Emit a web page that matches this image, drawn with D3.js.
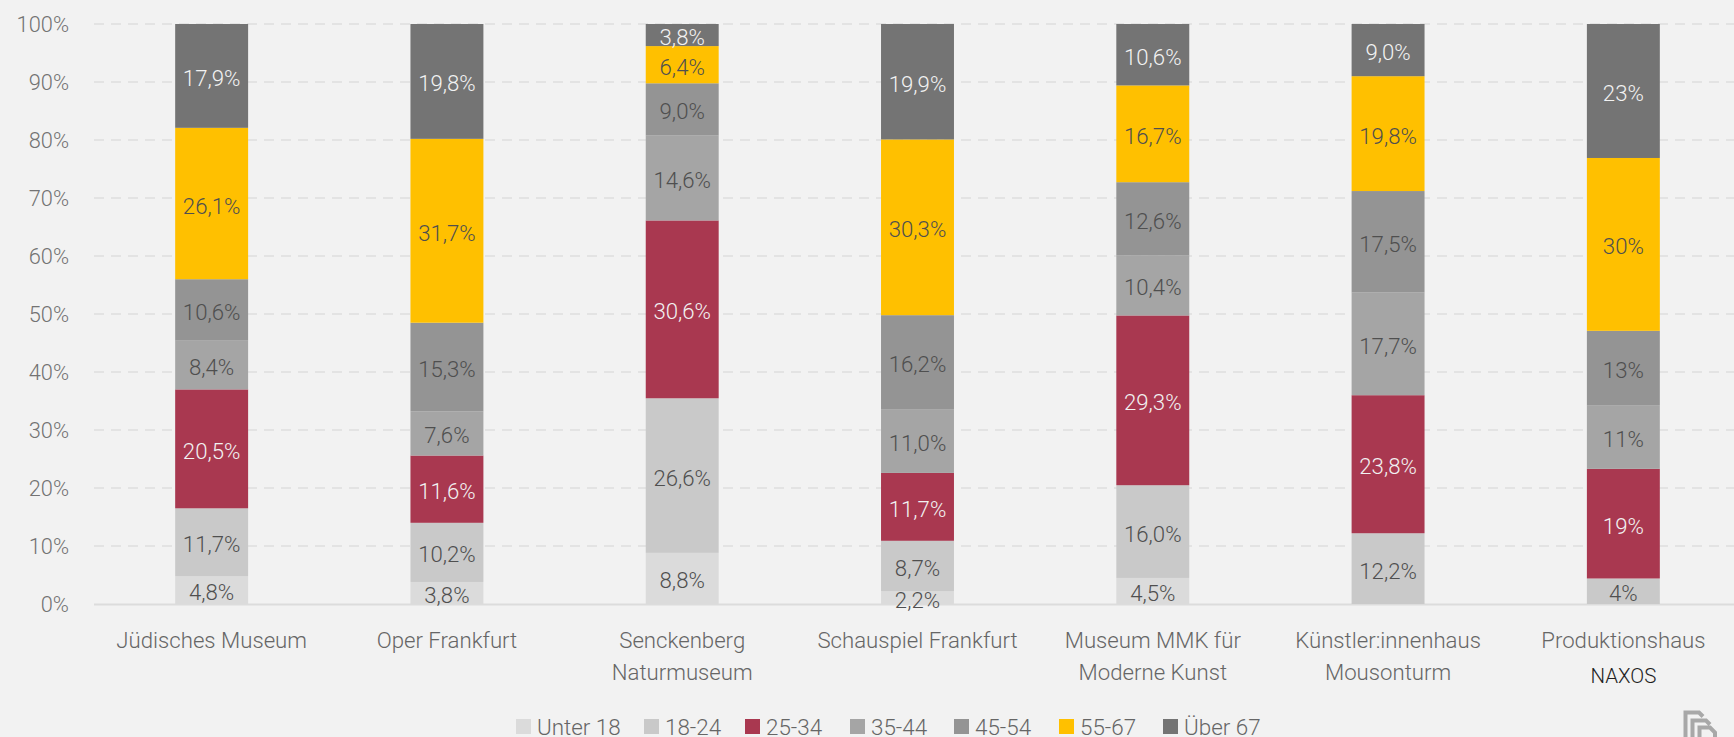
<!DOCTYPE html>
<html><head><meta charset="utf-8">
<script src="https://cdnjs.cloudflare.com/ajax/libs/d3/7.8.5/d3.min.js"></script>
<style>
html,body{margin:0;padding:0;background:#f2f2f2;overflow:hidden}
svg{display:block}
text{font-family:Roboto,"Open Sans",sans-serif;font-weight:300}
</style></head><body><svg id="c" width="1734" height="737"></svg>
<script>
const venues=[["Jüdisches Museum"],["Oper Frankfurt"],["Senckenberg","Naturmuseum"],["Schauspiel Frankfurt"],["Museum MMK für","Moderne Kunst"],["Künstler:innenhaus","Mousonturm"],["Produktionshaus","NAXOS"]];
const ageGroups=["Unter 18","18-24","25-34","35-44","45-54","55-67","Über 67"];
const colors=["#dbdbdb","#c9c9c9","#a93850","#a5a5a5","#949494","#ffc000","#747474"];
const unter18=[4.8,3.8,8.8,2.2,4.5,0,0];
const a18=[11.7,10.2,26.6,8.7,16.0,12.2,4.4];
const a25=[20.5,11.6,30.6,11.7,29.3,23.8,18.9];
const a35=[8.4,7.6,14.6,11.0,10.4,17.7,10.9];
const a45=[10.6,15.3,9.0,16.2,12.6,17.5,12.9];
const a55=[26.1,31.7,6.4,30.3,16.7,19.8,29.8];
const a67=[17.9,19.8,3.8,19.9,10.6,9.0,23.1];
const rawLabels=[
 ["4,8%","3,8%","8,8%","2,2%","4,5%","",""],
 ["11,7%","10,2%","26,6%","8,7%","16,0%","12,2%","4%"],
 ["20,5%","11,6%","30,6%","11,7%","29,3%","23,8%","19%"],
 ["8,4%","7,6%","14,6%","11,0%","10,4%","17,7%","11%"],
 ["10,6%","15,3%","9,0%","16,2%","12,6%","17,5%","13%"],
 ["26,1%","31,7%","6,4%","30,3%","16,7%","19,8%","30%"],
 ["17,9%","19,8%","3,8%","19,9%","10,6%","9,0%","23%"]];
const seriesVals=[unter18,a18,a25,a35,a45,a55,a67];
const labelCols=["#4f4f4f","#4f4f4f","#f2f2f2","#4f4f4f","#4f4f4f","#4f4f4f","#f2f2f2"];
const table=venues.map((v,i)=>{const o={i};ageGroups.forEach((g,k)=>o[g]=seriesVals[k][i]);return o;});
const svg=d3.select("#c");
const x=d3.scaleBand().domain(d3.range(venues.length)).range([94,1741]).paddingInner(0.69).paddingOuter(0.345);
const y=d3.scaleLinear().domain([0,1]).range([604,24]);
const stack=d3.stack().keys(ageGroups).offset(d3.stackOffsetExpand)(table);
const yAxis=d3.axisLeft(y).tickValues(d3.range(0,1.001,.1)).tickFormat(d3.format(".0%")).tickSize(0).tickPadding(0);
const ga=svg.append("g").attr("transform","translate(69,0)").call(yAxis);
ga.select(".domain").remove();
ga.selectAll("text").attr("font-size",21.8).attr("fill","#737373").attr("dy","0.34em").style("font-family",'Roboto,"Open Sans",sans-serif');
svg.append("g").selectAll("line").data(d3.range(1,10.5).map(d=>d/10)).join("line")
 .attr("x1",94).attr("x2",1742).attr("y1",y).attr("y2",y)
 .attr("stroke","#dedede").attr("stroke-width",1.6).attr("stroke-dasharray","10 7");
svg.append("line").attr("x1",94).attr("x2",1742).attr("y1",604.5).attr("y2",604.5).attr("stroke","#dcdcdc").attr("stroke-width",2);
const gs=svg.append("g").selectAll("g").data(stack).join("g").attr("fill",(d,i)=>colors[i]);
gs.selectAll("rect").data(d=>d).join("rect")
 .attr("x",(d,i)=>x(i)).attr("width",x.bandwidth())
 .attr("y",d=>y(d[1])).attr("height",d=>y(d[0])-y(d[1]));
const gl=svg.append("g").selectAll("g").data(stack).join("g");
gl.each(function(s,k){
 d3.select(this).selectAll("text").data(s).join("text")
  .attr("x",(d,i)=>x(i)+x.bandwidth()/2)
  .attr("y",d=>(y(d[0])+y(d[1]))/2+2)
  .attr("dy","0.36em").attr("text-anchor","middle").attr("font-size",22.2)
  .attr("fill",labelCols[k])
  .text((d,i)=>rawLabels[k][i]);
});
const xl=svg.append("g").selectAll("text").data(venues).join("text")
 .attr("text-anchor","middle")
 .attr("transform",(d,i)=>`translate(${x(i)+x.bandwidth()/2},0)`);
xl.each(function(d,i){
 d3.select(this).selectAll("tspan").data(d).join("tspan").attr("x",0)
  .attr("y",(t,j)=>648+j*32+(t==="NAXOS"?3:0))
  .text(t=>t).attr("fill",t=>t==="NAXOS"?"#1f1f1f":"#666").attr("font-size",t=>t==="NAXOS"?20.5:22.2);
});
const legX=[516,644,745,850,954,1059,1163];
const lg=svg.append("g").selectAll("g").data(ageGroups).join("g").attr("transform",(d,i)=>`translate(${legX[i]},719)`);
lg.append("rect").attr("width",15).attr("height",15).attr("fill",(d,i)=>colors[i]);
lg.append("text").attr("x",21).attr("y",15.5).attr("font-size",22.4).attr("fill","#666").text(d=>d);
// corner logo mark (decorative)
svg.append("path").attr("d","M1685.5,737V712.5H1699l4,4M1692.5,737V720.5H1706l4,4M1699.5,737V727.5H1710l5,5V737")
 .attr("fill","none").attr("stroke","#a8a8a8").attr("stroke-width",4);
</script></body></html>
